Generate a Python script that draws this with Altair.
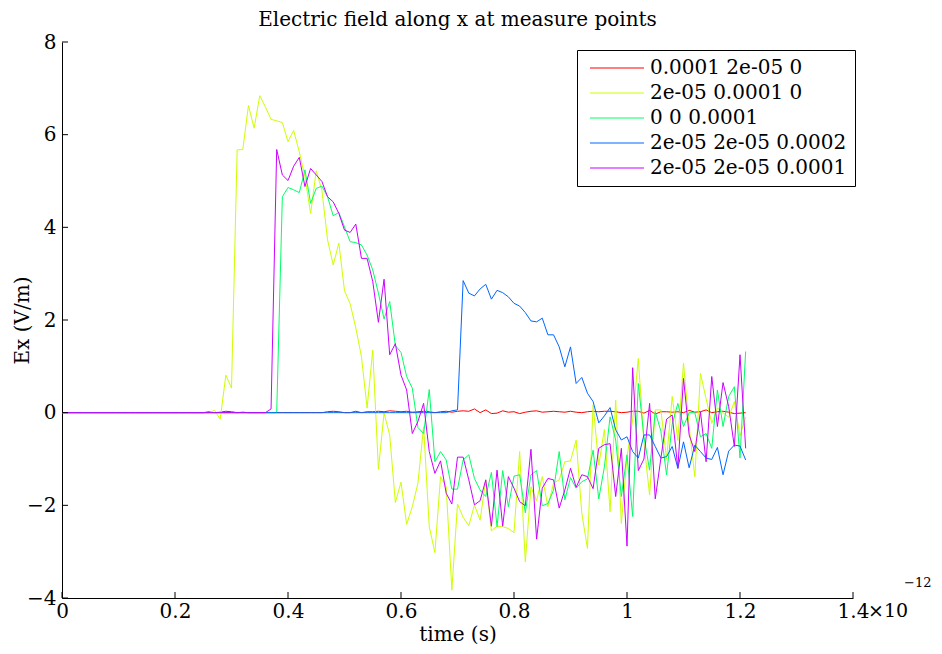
import altair as alt
import pandas as pd

# time axis in units of 1e-12 s
time_ps = [round(i * 0.01, 2) for i in range(122)]

series_names = ["0.0001 2e-05 0", "2e-05 0.0001 0", "0 0 0.0001",
                "2e-05 2e-05 0.0002", "2e-05 2e-05 0.0001"]
series_colors = ["#FF0000", "#CCFF00", "#00FF66", "#0066FF", "#CC00FF"]

red_vals = ([0.0] * 26 + [0.02, 0.0, 0.01, 0.03, 0.02, 0.0, 0.01, 0.0, 0.0, 0.0,
             0.0, 0.0, 0.0, 0.0, 0.0, 0.0, 0.0, 0.0, 0.0, 0.0,
             0.0, 0.02, 0.03, 0.02, 0.0, 0.0, 0.03, 0.0, 0.02]
            + [0.02, 0.03, 0.02, 0.04, 0.03, 0.02, 0.03, 0.01, 0.02, 0.03, 0.02, 0.00, 0.02, 0.03, 0.01,
               0.03, 0.04, 0.03, 0.08, 0.00, 0.06, -0.02, -0.01, 0.04, 0.01, 0.02, -0.02, 0.01, 0.03, 0.04,
               0.01, 0.02, 0.03, 0.02, 0.01, 0.03, 0.01, 0.00, 0.02, 0.03, 0.02, 0.03, 0.03, 0.02, 0.00,
               0.01, 0.03, 0.03, -0.01, 0.05, -0.03, 0.02, 0.02, 0.01, 0.02, 0.00, 0.05, 0.01, 0.02, 0.06,
               0.00, 0.02, 0.03, 0.01, -0.02, -0.01, 0.00])

yellow_vals = [0.0] * 27 + [
    0.05, -0.14, 0.81, 0.53, 5.67, 5.68, 6.63, 6.14, 6.84, 6.6,
    6.33, 6.30, 6.26, 5.85, 6.09, 5.63, 5.09, 4.30, 5.22, 4.8,
    3.73, 3.19, 3.66, 2.63, 2.35, 1.83, 1.21, 0.10, 1.35, -1.22,
    -0.01, -0.48, -1.94, -1.50, -2.41, -2.03, -1.52, -0.30, -2.46, -3.02,
    -1.38, -1.6, -3.83, -1.97, -2.26, -2.44, -1.99, -2.32, -1.45, -2.55,
    -2.45, -2.46, -2.5, -2.59, -0.84, -3.22, -1.60, -1.9, -1.38, -2.03,
    -1.52, -1.45, -1.06, -1.04, -0.59, -2.17, -2.93, 0.17, -1.13, -0.36,
    -2.14, 0.27, -2.39, -0.95, -0.16, 1.17, -0.66, -1.78, 0.06, 0.06,
    -1.0, 0.35, -0.6, 1.07, -0.3, -1.38, 0.85, 0.3, -0.23, 0.1,
    0.0, -0.1, 0.24, -0.5, -0.09]

green_vals = [0.0] * 39 + [
    4.66, 4.86, 4.81, 4.75, 5.24, 4.52, 4.84, 4.89, 4.66, 4.25,
    4.32, 4.01, 3.69, 3.67, 3.62, 3.40, 3.08, 2.58, 2.02, 2.40,
    1.45, 1.30, 0.78, 0.53, -0.32, -0.45, 0.50, -1.06, -0.84, -1.02,
    -1.65, -1.65, -1.02, -0.91, -1.42, -1.67, -1.81, -1.29, -2.46, -1.25,
    -2.03, -1.37, -1.34, -2.16, -1.34, -1.25, -2.01, -1.96, -1.67, -0.84,
    -1.88, -1.40, -1.63, -1.49, -1.43, -0.81, -1.86, -1.17, -0.09, -0.59,
    -1.81, -0.91, -2.24, 0.63, -0.52, -1.24, 0.02, -0.4, -1.34, -0.25,
    0.20, -0.3, 0.0, 0.0, -0.52, -0.45, -0.77, 0.49, -0.30, 0.35,
    0.56, -0.98, 1.32]

blue_vals = [0.0] * 69 + [0.04, 0.06] + [
    2.85, 2.58, 2.52, 2.67, 2.77, 2.45, 2.64, 2.59, 2.50, 2.36,
    2.30, 2.16, 1.98, 1.96, 2.04, 1.68, 1.68, 1.42, 0.99, 1.42,
    0.63, 0.76, 0.42, 0.24, -0.22, -0.07, 0.11, -0.37, -0.59, -0.52,
    -0.84, -0.98, -0.48, -0.48, -0.73, -0.98, -0.95, -0.73, -1.20, -0.63,
    -1.19, -0.70, -0.84, -0.98, -1.01, -0.75, -1.34, -0.83, -0.70, -0.72,
    -1.02]

magenta_vals = [0.0] * 37 + [
    0.08, 5.68, 5.13, 5.01, 5.32, 5.51, 4.88, 5.27, 5.13, 4.99,
    4.66, 4.55, 4.30, 3.94, 3.89, 4.07, 3.33, 3.33, 2.83, 1.95,
    2.88, 1.25, 1.49, 0.81, 0.49, -0.45, -0.19, 0.20, -0.84, -1.31,
    -1.04, -1.74, -1.97, -0.96, -0.96, -1.45, -1.99, -1.90, -1.45, -2.45,
    -1.24, -2.45, -1.38, -1.63, -1.92, -2.01, -0.79, -2.73, -1.63, -1.42,
    -1.45, -2.06, -1.67, -1.20, -1.61, -1.34, -1.38, -1.64, -0.77, -0.69,
    -0.67, -1.81, -0.77, -2.88, 0.97, -1.25, -1.0, 0.20, -1.86, -0.98,
    -0.14, -0.05, -1.20, 0.74, -0.48, -0.84, 0.02, -1.06, 0.78, -0.3,
    0.65, 0.13, -0.73, 1.25, -0.77]

x_ticks = [0, 0.2, 0.4, 0.6, 0.8, 1.0, 1.2, 1.4]
y_ticks = [-4, -2, 0, 2, 4, 6, 8]

all_vals = [red_vals, yellow_vals, green_vals, blue_vals, magenta_vals]
rows = []
for name, vals in zip(series_names, all_vals):
    for t, v in zip(time_ps, vals):
        rows.append({"series": name, "t": t, "v": v})
df = pd.DataFrame(rows)

FONT = "DejaVu Serif"
W, H = 791, 556

x_enc = alt.X("t:Q", scale=alt.Scale(domain=[0, 1.4], nice=False),
              axis=alt.Axis(values=x_ticks, format="~g", tickSize=0, grid=False,
                            domainColor="black", labelColor="black",
                            labelFont=FONT, labelFontSize=20, labelPadding=3,
                            labelFlush=False,
                            title="time (s)", titleFont=FONT, titleFontSize=20,
                            titleFontWeight="normal", titleColor="black",
                            titlePadding=3))
y_enc = alt.Y("v:Q", scale=alt.Scale(domain=[-4, 8], nice=False),
              axis=alt.Axis(values=y_ticks, tickSize=0, grid=False,
                            domainColor="black", labelColor="black",
                            labelFont=FONT, labelFontSize=20, labelPadding=6,
                            labelFlush=False,
                            title="Ex (V/m)", titleFont=FONT, titleFontSize=20,
                            titleFontWeight="normal", titleColor="black",
                            titleX=-40, titleY=H / 2, titleBaseline="middle",
                            titleAlign="center", titleAngle=270))

color_scale = alt.Scale(domain=series_names, range=series_colors)
legend = alt.Legend(title=None, orient="none", legendX=515, legendY=8,
                    fillColor="white", strokeColor="black", padding=8,
                    symbolType="M-5.4,0H5.4", symbolSize=100, symbolStrokeWidth=1.2,
                    symbolOffset=22, labelOffset=23,
                    labelFont=FONT, labelFontSize=20, labelColor="black",
                    rowPadding=5, labelLimit=400)

layers = []
for i, name in enumerate(series_names):
    layers.append(
        alt.Chart(df).transform_filter(alt.datum.series == name)
        .mark_line(strokeWidth=1, clip=True)
        .encode(x=x_enc, y=y_enc,
                color=alt.Color("series:N", scale=color_scale,
                                legend=legend if i == 0 else None))
    )

xt = alt.Chart(pd.DataFrame({"t": x_ticks})).mark_rule(color="black", strokeWidth=1).encode(
    x="t:Q", y=alt.value(H), y2=alt.value(H - 6))
yt = alt.Chart(pd.DataFrame({"v": y_ticks})).mark_rule(color="black", strokeWidth=1).encode(
    y="v:Q", x=alt.value(0), x2=alt.value(6))

one = pd.DataFrame({"k": [0]})
times10 = alt.Chart(one).mark_text(font=FONT, fontSize=19, align="left", baseline="middle",
                                   color="black").encode(
    x=alt.value(W + 15), y=alt.value(H + 13), text=alt.value("×10"))
exp12 = alt.Chart(one).mark_text(font=FONT, fontSize=13, align="left", baseline="middle",
                                 color="black").encode(
    x=alt.value(W + 51), y=alt.value(H - 15), text=alt.value("−12"))

chart = alt.layer(*layers, xt, yt, times10, exp12).properties(
    width=W, height=H,
    view=alt.ViewBackground(stroke="transparent", strokeWidth=0),
    title=alt.TitleParams("Electric field along x at measure points", font=FONT,
                          fontSize=20, fontWeight="normal", color="black",
                          anchor="middle", frame="group", offset=2),
    autosize=alt.AutoSizeParams(type="none"),
    padding={"left": 54, "top": 34, "right": 81, "bottom": 48},
).configure(background="white").configure_view(
    stroke="transparent", strokeWidth=0, strokeOpacity=0
).configure_axis(grid=False)

chart.save("out.html", embed_options={"renderer": "svg", "actions": False})
